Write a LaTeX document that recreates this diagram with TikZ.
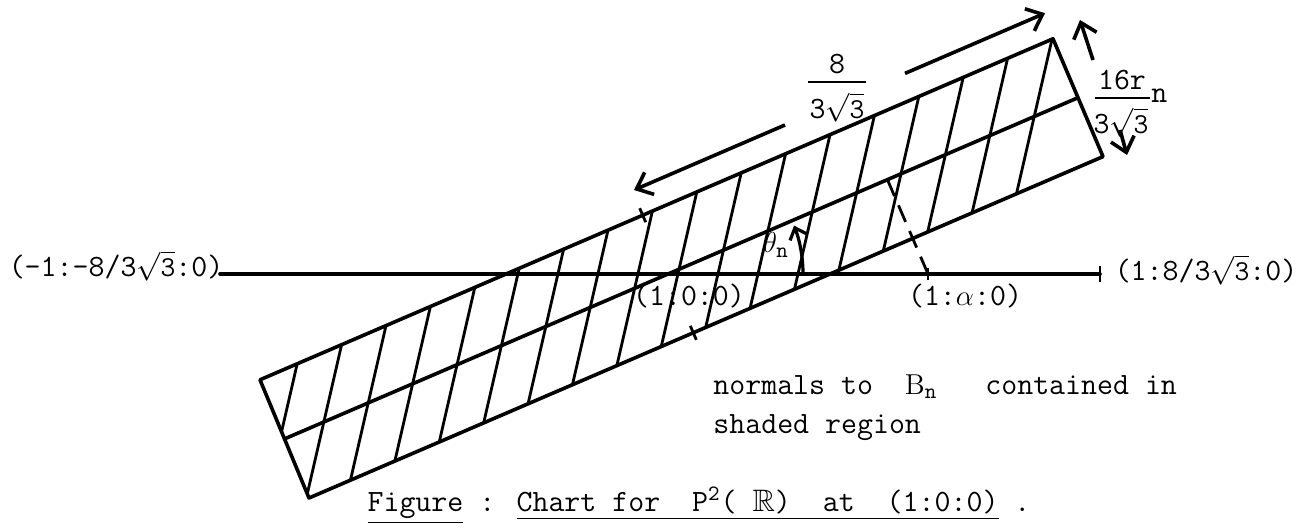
\documentclass[tikz,border=0pt]{standalone}
\usepackage{amssymb}
\usetikzlibrary{arrows.meta,calc}
\begin{document}
\begin{tikzpicture}[x=0.5pt,y=-0.5pt,
  edge/.style={line width=1.8pt, line cap=round, line join=round},
  hatch/.style={line width=1.4pt},
  lbl/.style={font=\fontsize{15.5}{18}\selectfont\ttfamily, inner sep=0pt},
  fracbar/.style={line width=1.2pt},
  dimarrow/.style={line width=1.8pt, -{Straight Barb[length=7pt,width=12pt,line width=1.8pt]}}
]
\useasboundingbox (0,0) rectangle (1309,528);
% band corners
\coordinate (TL) at (260,379.8);
\coordinate (TR) at (1053,38.8);
\coordinate (BR) at (1103,156.6);
\coordinate (BL) at (309,498.0);
\coordinate (LM) at (284.5,438.9);
\coordinate (RM) at (1078,97.7);
% axis
\coordinate (AL) at (220,274);
\coordinate (AR) at (1100,274);
\coordinate (O) at (668,274);
\coordinate (Al) at (928,274);
\coordinate (P) at (887.4,179.6);
% hatching
\begin{scope}
  \clip (TL) -- (TR) -- (BR) -- (BL) -- cycle;
  \foreach \k in {0,...,17} {
    \pgfmathsetmacro\xk{1052-44.4*\k}
    \pgfmathsetmacro\yk{274-0.43*(\xk-506)}
    \draw[hatch] ({\xk+0.23*30},{\yk-30}) -- ({\xk-0.23*220},{\yk+220});
  }
\end{scope}
% band
\draw[edge] (TL) -- (TR) -- (BR) -- (BL) -- cycle;
\draw[edge] (LM) -- (RM);
% axis
\draw[edge] (AL) -- (AR);
\draw[hatch] ($(AR)+(0,-8)$) -- ($(AR)+(0,8)$);
% normal through (1:0:0): ticks
\draw[hatch] ($(642.7,215.2)+(-3,-7)$) -- ($(642.7,215.2)+(3,7)$);
\draw[hatch] ($(693.3,332.8)+(-3,-7)$) -- ($(693.3,332.8)+(3,7)$);
% dashed normal
\draw[hatch, dash pattern=on 9pt off 5pt] (P) -- (Al);
\draw[hatch] ($(Al)+(0,-6)$) -- ($(Al)+(0,6)$);
% angle
\draw[line width=1.6pt, -{Straight Barb[length=5pt,width=9pt,line width=1.6pt]}] ($(O)+(135,0)$) arc[start angle=0, end angle=-21, radius=135];
% length arrows
\coordinate (L1) at (785,125);
\coordinate (L2) at (634,190);
\coordinate (R1) at (905,73.4);
\coordinate (R2) at (1045,13.2);
\draw[dimarrow] (L1) -- (L2);
\draw[dimarrow] (R1) -- (R2);
% width arrows
\coordinate (W1) at (1093,60);
\coordinate (W2) at (1080,20);
\coordinate (W3) at (1120,130);
\coordinate (W4) at (1127,155);
\draw[dimarrow] (W1) -- (W2);
\draw[dimarrow] (W3) -- (W4);
% labels
\node[lbl] (lft) at (116,266) {(-1:-8/3$\sqrt{\mathtt{3}}$:0)};
\node[lbl] (rgt) at (1206,270) {(1:8/3$\sqrt{\mathtt{3}}$:0)};
\node[lbl] (org) at (689,296) {(1:0:0)};
\node[lbl] (alp) at (965,296) {(1:$\alpha$:0)};
\node[lbl] (th) at (776,245) {$\theta_{\mathtt{n}}$};
% length fraction
\node[lbl, anchor=south] (lnum) at (837,74) {8};
\node[lbl, anchor=north] (lden) at (837,92) {3$\sqrt{\mathtt{3}}$};
\coordinate (lb1) at (808,82);
\coordinate (lb2) at (866,82);
\draw[fracbar] (lb1) -- (lb2);
% width fraction
\node[lbl, anchor=south] (wnum) at (1122,90) {16r};
\node[lbl, anchor=north] (wden) at (1121,107) {3$\sqrt{\mathtt{3}}$};
\coordinate (wb1) at (1095,98);
\coordinate (wb2) at (1150,98);
\draw[fracbar] (wb1) -- (wb2);
\node[lbl, anchor=west] (wn) at (1151,96) {n};
% notes
\node[lbl, anchor=west] (nrm) at (713,387) {normals to\ \ $\mathrm{B}_{\mathtt{n}}$\ \ \ contained in};
\node[lbl, anchor=west] (shd) at (713,428) {shaded region};
\node[lbl] (cap) at (699,506) {\underline{Figure} : \underline{Chart for\ \ P$^{\mathtt{2}}$( $\mathbb{R}$)\ \ at\ \ (1:0:0)} .};
\end{tikzpicture}
\end{document}
